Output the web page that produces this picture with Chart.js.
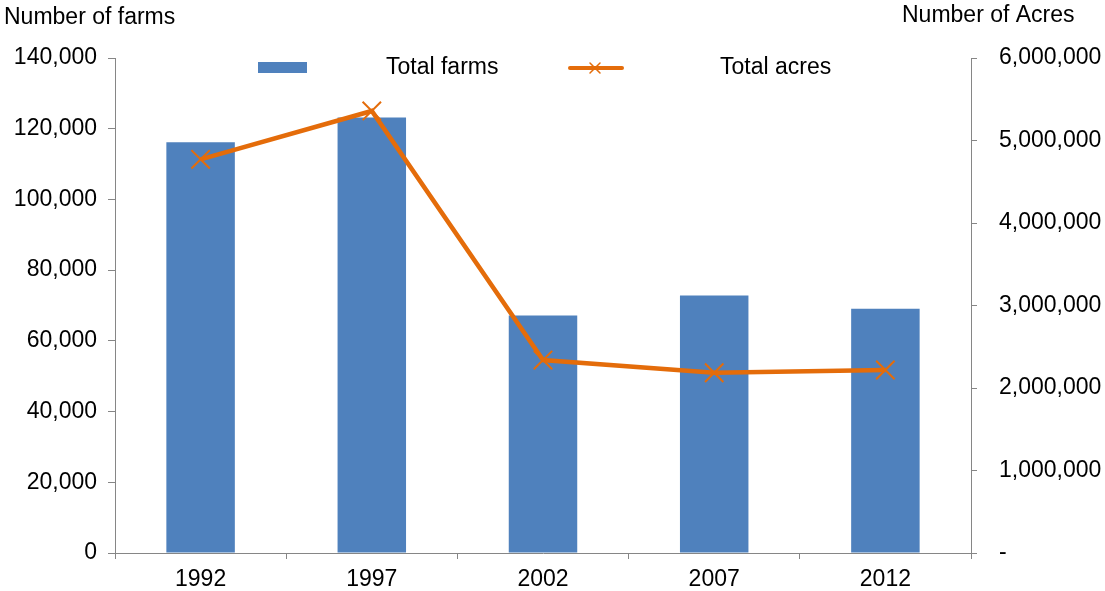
<!DOCTYPE html>
<html>
<head>
<meta charset="utf-8">
<script src="https://cdn.jsdelivr.net/npm/chart.js@4/dist/chart.umd.min.js"></script>
<style>
  html, body { margin: 0; padding: 0; background: #fff; }
  #wrap { width: 1105px; height: 591px; position: relative; }
</style>
</head>
<body>
<div id="wrap"><canvas id="farmsChart"></canvas></div>
<script>
// Datos
const years = ['1992', '1997', '2002', '2007', '2012'];
const totalFarms = [116200, 123200, 67200, 72800, 69100];
const totalAcres = [4772000, 5358000, 2339000, 2185000, 2218000];

const FONT = '"Liberation Sans", Arial, sans-serif';
const FONT_SIZE = 23;
const AXIS_GREY = '#868686';
const BLUE = '#4F81BD';
const ORANGE = '#E46C0A';

// Leyenda y títulos de ejes dibujados a mano
const extras = {
    id: 'extras',
    afterDraw(chart) {
        const ctx = chart.ctx;
        ctx.save();
        ctx.font = FONT_SIZE + 'px ' + FONT;
        ctx.fillStyle = '#000';
        ctx.textBaseline = 'middle';
        ctx.textAlign = 'left';
        ctx.fillText('Number of farms', 4, 18);
        ctx.fillText('Number of Acres', 902, 16);

        // caja de la serie de barras
        ctx.fillStyle = BLUE;
        ctx.fillRect(258, 62, 49, 11);
        ctx.fillStyle = '#000';
        ctx.fillText('Total farms', 386, 68);

        // línea con marcador
        ctx.strokeStyle = ORANGE;
        ctx.lineWidth = 4;
        ctx.lineCap = 'round';
        ctx.beginPath();
        ctx.moveTo(570, 68);
        ctx.lineTo(622, 68);
        ctx.stroke();
        ctx.lineWidth = 1.5;
        ctx.beginPath();
        ctx.moveTo(590, 63); ctx.lineTo(600, 73);
        ctx.moveTo(600, 63); ctx.lineTo(590, 73);
        ctx.stroke();
        ctx.fillText('Total acres', 720, 68);
        ctx.restore();
    }
};

document.addEventListener('DOMContentLoaded', () => {
    const canvas = document.getElementById('farmsChart');
    new Chart(canvas.getContext('2d'), {
        type: 'bar',
        data: {
            labels: years,
            datasets: [
                {
                    type: 'line',
                    label: 'Total acres',
                    data: totalAcres,
                    yAxisID: 'y1',
                    borderColor: ORANGE,
                    backgroundColor: ORANGE,
                    borderWidth: 4.5,
                    tension: 0,
                    pointStyle: 'crossRot',
                    pointRadius: 13,
                    pointBorderWidth: 2,
                    pointBorderColor: ORANGE,
                    order: 0
                },
                {
                    label: 'Total farms',
                    data: totalFarms,
                    yAxisID: 'y',
                    backgroundColor: BLUE,
                    barPercentage: 0.4,
                    categoryPercentage: 1.0,
                    order: 1
                }
            ]
        },
        options: {
            responsive: true,
            maintainAspectRatio: false,
            animation: false,
            layout: { padding: { top: 58, left: 0, right: 0, bottom: 0 } },
            plugins: {
                legend: { display: false },
                tooltip: { enabled: false }
            },
            scales: {
                x: {
                    grid: { display: true, drawOnChartArea: false, drawTicks: true, tickLength: 6, color: AXIS_GREY, offset: true },
                    border: { color: AXIS_GREY, width: 1 },
                    ticks: { color: '#000', font: { family: FONT, size: FONT_SIZE }, padding: 7, maxRotation: 0 },
                    afterFit(scale) { scale.height = 38; }
                },
                y: {
                    position: 'left',
                    min: 0,
                    max: 140000,
                    grid: { display: true, drawOnChartArea: false, drawTicks: true, tickLength: 7, color: AXIS_GREY },
                    border: { color: AXIS_GREY, width: 1 },
                    ticks: {
                        stepSize: 20000,
                        color: '#000',
                        font: { family: FONT, size: FONT_SIZE },
                        padding: 11,
                        callback: v => v.toLocaleString('en-US')
                    },
                    afterFit(scale) { scale.width = 115; }
                },
                y1: {
                    position: 'right',
                    min: 0,
                    max: 6000000,
                    grid: { display: true, drawOnChartArea: false, drawTicks: true, tickLength: 6, color: AXIS_GREY },
                    border: { color: AXIS_GREY, width: 1 },
                    ticks: {
                        stepSize: 1000000,
                        color: '#000',
                        font: { family: FONT, size: FONT_SIZE },
                        padding: 22,
                        callback: v => v === 0 ? '-' : v.toLocaleString('en-US')
                    },
                    afterFit(scale) { scale.width = 134; }
                }
            }
        },
        plugins: [extras]
    });
});
</script>
</body>
</html>
